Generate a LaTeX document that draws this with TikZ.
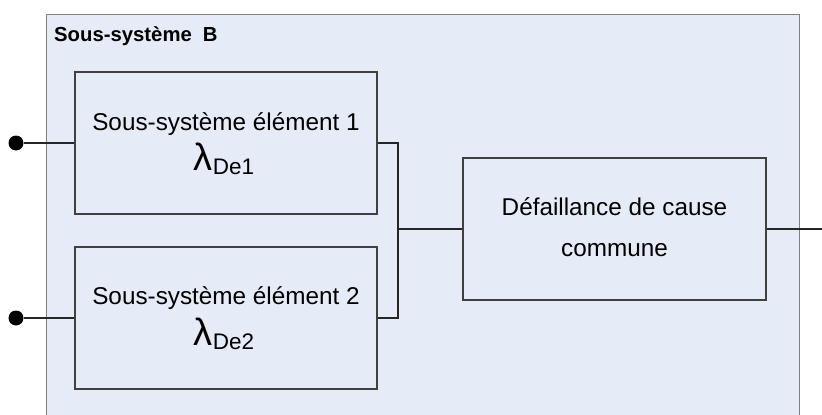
\documentclass[tikz,border=0pt]{standalone}
\usepackage{fontspec}
\setmainfont{Liberation Sans}
\definecolor{bgblue}{RGB}{230,236,247}
\definecolor{outerline}{RGB}{128,128,128}
\definecolor{boxline}{RGB}{64,64,64}
\definecolor{wire}{RGB}{38,38,38}
\begin{document}
\begin{tikzpicture}[x=1pt,y=-1pt,
  blockbox/.style={draw=boxline,line width=1.2pt,fill=bgblue,minimum width=302pt,minimum height=142pt,inner sep=0pt},
  maintext/.style={anchor=base,inner sep=0pt,font=\fontsize{24.3}{29}\selectfont},
  titletext/.style={anchor=base west,inner sep=0pt,font=\fontsize{20.3}{24}\selectfont\bfseries},
  dotnode/.style={circle,fill=black,minimum size=15pt,inner sep=0pt},
  wireline/.style={draw=wire,line width=1.5pt}]
\useasboundingbox (0,0) rectangle (822,415);
\clip (0,0) rectangle (822,415);
% outer subsystem frame
\node[draw=outerline,line width=1.4pt,fill=bgblue,minimum width=753pt,minimum height=420pt,inner sep=0pt,anchor=north west] (frame) at (46,14) {};
\node[titletext] (title) at (54,41) {Sous-système\hspace{11pt}B};
% blocks
\node[blockbox] (b1) at (226,143) {};
\node[blockbox] (b2) at (226,318) {};
\node[blockbox,minimum width=303pt] (b3) at (614.5,229) {};
% texts
\node[maintext] (b1t) at (226,130) {Sous-système élément 1};
\node[anchor=base,inner sep=0pt] (b1l) at (224,170) {{\fontsize{38}{38}\selectfont λ}\raisebox{-4pt}{\fontsize{22.5}{22}\selectfont De1}};
\node[maintext] (b2t) at (226,304) {Sous-système élément 2};
\node[anchor=base,inner sep=0pt] (b2l) at (224,345) {{\fontsize{38}{38}\selectfont λ}\raisebox{-4pt}{\fontsize{22.5}{22}\selectfont De2}};
\node[maintext] (b3t) at (614.5,215) {Défaillance de cause};
\node[maintext] (b3u) at (614.5,256) {commune};
% inputs
\node[dotnode] (i1) at (16,143) {};
\node[dotnode] (i2) at (16,318) {};
\coordinate (j) at (398,229);
\coordinate (out) at (823,229);
\draw[wireline] (i1) -- (b1.west);
\draw[wireline] (i2) -- (b2.west);
\draw[wireline] (b1.east) -| (j);
\draw[wireline] (b2.east) -| (j);
\draw[wireline] (j) -- (b3.west);
\draw[wireline] (b3.east) -- (out);
\end{tikzpicture}
\end{document}
